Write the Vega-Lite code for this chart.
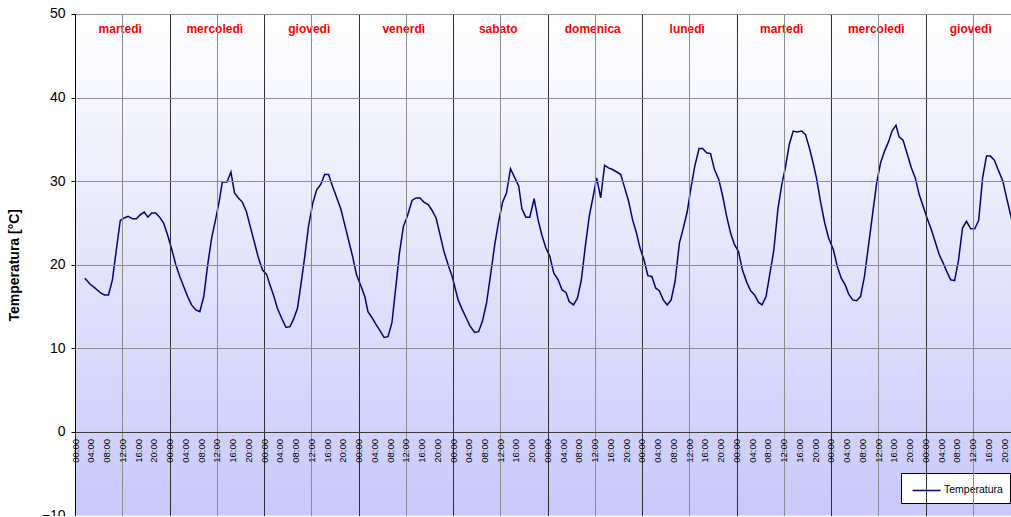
{
  "$schema": "https://vega.github.io/schema/vega-lite/v6.json",
  "width": 945,
  "height": 501.6,
  "autosize": {"type": "none"},
  "padding": {"left": 75, "top": 14, "right": 0, "bottom": 0},
  "background": "white",
  "config": {
    "font": "Liberation Sans",
    "view": {"stroke": null},
    "axis": {"labelFont": "Liberation Sans", "titleFont": "Liberation Sans"},
    "legend": {"labelFont": "Liberation Sans"}
  },
  "resolve": {"axis": {"x": "independent"}},
  "layer": [
    {
      "data": {"values": [{}]},
      "mark": {
        "type": "rect",
        "stroke": null,
        "fill": {
          "gradient": "linear", "x1": 0, "y1": 0, "x2": 0, "y2": 1,
          "stops": [{"offset": 0, "color": "#ffffff"}, {"offset": 1, "color": "#c8c8fa"}]
        }
      },
      "encoding": {
        "x": {
          "datum": 0, "type": "quantitative",
          "scale": {"domain": [0, 240], "nice": false, "zero": false},
          "axis": {
            "orient": "bottom", "values": [0,12,24,36,48,60,72,84,96,108,120,132,144,156,168,180,192,204,216,228,240],
            "grid": true, "zindex": 1,
            "gridColor": {"condition": {"test": "datum.value % 24 === 0", "value": "#2e2e2e"}, "value": "#8c8c8c"},
            "gridWidth": 1,
            "labels": false, "ticks": false, "domain": false, "title": null
          }
        },
        "x2": {"datum": 240},
        "y": {
          "datum": 50, "type": "quantitative",
          "scale": {"domain": [-10, 50], "nice": false, "zero": false},
          "axis": {
            "values": [-10, 0, 10, 20, 30, 40, 50],
            "grid": true, "gridColor": "#8c8c8c", "gridWidth": 1, "zindex": 1,
            "domainColor": "#000000", "domainWidth": 1,
            "tickColor": "#000000", "tickSize": 4,
            "labelFontSize": 14, "labelColor": "#000000", "labelPadding": 6,
            "title": "Temperatura [°C]", "titleFontSize": 14, "titleFontWeight": "bold",
            "titleColor": "#000000", "titlePadding": 20
          }
        },
        "y2": {"datum": -10}
      }
    },
    {
      "data": {
        "values": [
          {"ora": 12, "giorno": "martedì"},
          {"ora": 36, "giorno": "mercoledì"},
          {"ora": 60, "giorno": "giovedì"},
          {"ora": 84, "giorno": "venerdì"},
          {"ora": 108, "giorno": "sabato"},
          {"ora": 132, "giorno": "domenica"},
          {"ora": 156, "giorno": "lunedì"},
          {"ora": 180, "giorno": "martedì"},
          {"ora": 204, "giorno": "mercoledì"},
          {"ora": 228, "giorno": "giovedì"}
        ]
      },
      "mark": {"type": "text", "color": "#ff0000", "fontWeight": "bold", "fontSize": 12, "baseline": "alphabetic", "align": "center", "dx": -2},
      "encoding": {
        "x": {
          "field": "ora", "type": "quantitative",
          "axis": {
            "orient": "bottom", "offset": -83.6, "zindex": 2,
            "values": [0,4,8,12,16,20,24,28,32,36,40,44,48,52,56,60,64,68,72,76,80,84,88,92,96,100,104,108,112,116,120,124,128,132,136,140,144,148,152,156,160,164,168,172,176,180,184,188,192,196,200,204,208,212,216,220,224,228,232,236],
            "labelExpr": "(datum.value % 24 < 10 ? '0' : '') + (datum.value % 24) + ':00'",
            "labelAngle": 270, "labelFontSize": 9.5, "labelColor": "#000000", "labelPadding": 1.5,
            "labelOverlap": false,
            "ticks": true, "tickSize": 5, "tickColor": "#2e2e2e",
            "tickOpacity": {"condition": {"test": "datum.value % 24 === 0", "value": 1}, "value": 0},
            "grid": false,
            "domain": true, "domainColor": "#3c3c3c", "domainWidth": 1,
            "title": null
          }
        },
        "y": {"datum": 47.67, "type": "quantitative"},
        "text": {"field": "giorno"}
      }
    },
    {
      "data": {
        "values": [
          {"h": 2.5, "t": 18.4}, {"h": 3.8, "t": 17.7}, {"h": 5.1, "t": 17.2}, {"h": 6.6, "t": 16.6}, {"h": 7.5, "t": 16.4}, {"h": 8.5, "t": 16.4}, {"h": 9.5, "t": 18.2}, {"h": 10.5, "t": 21.8}, {"h": 11.5, "t": 25.3}, {"h": 12.5, "t": 25.6}, {"h": 13.5, "t": 25.8}, {"h": 14.6, "t": 25.5}, {"h": 15.6, "t": 25.5}, {"h": 16.6, "t": 26.0}, {"h": 17.6, "t": 26.3}, {"h": 18.5, "t": 25.7}, {"h": 19.5, "t": 26.2}, {"h": 20.5, "t": 26.2}, {"h": 21.5, "t": 25.7}, {"h": 22.5, "t": 25.0}, {"h": 23.5, "t": 23.6},
          {"h": 24.6, "t": 21.8}, {"h": 25.6, "t": 20.0}, {"h": 26.6, "t": 18.6}, {"h": 27.6, "t": 17.4}, {"h": 28.6, "t": 16.2}, {"h": 29.6, "t": 15.2}, {"h": 30.7, "t": 14.6}, {"h": 31.7, "t": 14.4}, {"h": 32.7, "t": 16.2}, {"h": 33.7, "t": 20.0}, {"h": 34.7, "t": 23.2}, {"h": 35.7, "t": 25.4}, {"h": 36.7, "t": 27.8}, {"h": 37.4, "t": 29.9}, {"h": 38.6, "t": 29.9}, {"h": 39.6, "t": 31.1}, {"h": 40.5, "t": 28.6}, {"h": 41.5, "t": 28.0}, {"h": 42.5, "t": 27.5}, {"h": 43.5, "t": 26.4}, {"h": 44.5, "t": 24.6}, {"h": 45.6, "t": 22.6}, {"h": 46.6, "t": 20.8}, {"h": 47.6, "t": 19.4},
          {"h": 48.7, "t": 18.8}, {"h": 49.5, "t": 17.6}, {"h": 50.4, "t": 16.4}, {"h": 51.4, "t": 14.8}, {"h": 52.4, "t": 13.7}, {"h": 53.6, "t": 12.5}, {"h": 54.6, "t": 12.6}, {"h": 55.5, "t": 13.5}, {"h": 56.5, "t": 14.8}, {"h": 57.3, "t": 17.4}, {"h": 58.3, "t": 20.8}, {"h": 59.3, "t": 24.6}, {"h": 60.4, "t": 27.4}, {"h": 61.4, "t": 29.0}, {"h": 62.4, "t": 29.6}, {"h": 63.4, "t": 30.8}, {"h": 64.4, "t": 30.8}, {"h": 65.4, "t": 29.4}, {"h": 66.5, "t": 28.0}, {"h": 67.5, "t": 26.7}, {"h": 68.5, "t": 24.8}, {"h": 69.5, "t": 22.9}, {"h": 70.5, "t": 21.0}, {"h": 71.5, "t": 18.8},
          {"h": 72.6, "t": 17.5}, {"h": 73.6, "t": 16.2}, {"h": 74.4, "t": 14.4}, {"h": 75.4, "t": 13.7}, {"h": 76.4, "t": 12.9}, {"h": 77.5, "t": 12.1}, {"h": 78.5, "t": 11.3}, {"h": 79.5, "t": 11.4}, {"h": 80.5, "t": 13.1}, {"h": 81.4, "t": 17.0}, {"h": 82.4, "t": 21.4}, {"h": 83.4, "t": 24.6}, {"h": 84.4, "t": 25.8}, {"h": 85.6, "t": 27.7}, {"h": 86.6, "t": 28.0}, {"h": 87.6, "t": 28.0}, {"h": 88.6, "t": 27.5}, {"h": 89.7, "t": 27.2}, {"h": 90.7, "t": 26.5}, {"h": 91.7, "t": 25.6}, {"h": 92.7, "t": 23.6}, {"h": 93.7, "t": 21.6}, {"h": 94.9, "t": 19.8}, {"h": 95.8, "t": 18.6},
          {"h": 97.3, "t": 15.8}, {"h": 98.3, "t": 14.7}, {"h": 99.3, "t": 13.7}, {"h": 100.3, "t": 12.7}, {"h": 101.5, "t": 11.9}, {"h": 102.5, "t": 12.0}, {"h": 103.5, "t": 13.3}, {"h": 104.5, "t": 15.4}, {"h": 105.6, "t": 19.0}, {"h": 106.6, "t": 22.4}, {"h": 107.6, "t": 25.2}, {"h": 108.6, "t": 27.5}, {"h": 109.6, "t": 28.6}, {"h": 110.6, "t": 31.5}, {"h": 111.7, "t": 30.4}, {"h": 112.7, "t": 29.4}, {"h": 113.5, "t": 26.7}, {"h": 114.5, "t": 25.7}, {"h": 115.5, "t": 25.7}, {"h": 116.6, "t": 27.9}, {"h": 117.6, "t": 25.4}, {"h": 118.6, "t": 23.5}, {"h": 119.6, "t": 22.0},
          {"h": 120.6, "t": 21.0}, {"h": 121.6, "t": 19.0}, {"h": 122.7, "t": 18.2}, {"h": 123.7, "t": 17.0}, {"h": 124.7, "t": 16.7}, {"h": 125.5, "t": 15.6}, {"h": 126.6, "t": 15.2}, {"h": 127.6, "t": 16.0}, {"h": 128.6, "t": 18.2}, {"h": 129.6, "t": 22.2}, {"h": 130.6, "t": 25.8}, {"h": 131.6, "t": 28.2}, {"h": 132.5, "t": 30.4}, {"h": 133.5, "t": 28.0}, {"h": 134.5, "t": 31.9}, {"h": 135.5, "t": 31.6}, {"h": 136.5, "t": 31.4}, {"h": 137.6, "t": 31.1}, {"h": 138.6, "t": 30.8}, {"h": 139.6, "t": 29.2}, {"h": 140.6, "t": 27.6}, {"h": 141.6, "t": 25.4}, {"h": 142.6, "t": 23.8}, {"h": 143.5, "t": 22.0},
          {"h": 144.5, "t": 20.6}, {"h": 145.5, "t": 18.7}, {"h": 146.5, "t": 18.6}, {"h": 147.5, "t": 17.2}, {"h": 148.4, "t": 16.9}, {"h": 149.4, "t": 15.8}, {"h": 150.4, "t": 15.2}, {"h": 151.4, "t": 15.8}, {"h": 152.4, "t": 18.0}, {"h": 153.5, "t": 22.6}, {"h": 154.5, "t": 24.4}, {"h": 155.5, "t": 26.4}, {"h": 156.3, "t": 28.8}, {"h": 157.4, "t": 31.8}, {"h": 158.5, "t": 33.9}, {"h": 159.4, "t": 33.9}, {"h": 160.4, "t": 33.4}, {"h": 161.4, "t": 33.3}, {"h": 162.4, "t": 31.4}, {"h": 163.5, "t": 30.2}, {"h": 164.5, "t": 28.2}, {"h": 165.5, "t": 25.8}, {"h": 166.5, "t": 23.8}, {"h": 167.5, "t": 22.4},
          {"h": 168.5, "t": 21.6}, {"h": 169.5, "t": 19.4}, {"h": 170.6, "t": 17.9}, {"h": 171.6, "t": 16.9}, {"h": 172.6, "t": 16.4}, {"h": 173.6, "t": 15.5}, {"h": 174.5, "t": 15.2}, {"h": 175.5, "t": 16.2}, {"h": 176.5, "t": 19.0}, {"h": 177.5, "t": 21.8}, {"h": 178.5, "t": 26.6}, {"h": 179.5, "t": 29.6}, {"h": 180.4, "t": 31.6}, {"h": 181.4, "t": 34.4}, {"h": 182.4, "t": 36.0}, {"h": 183.4, "t": 35.9}, {"h": 184.5, "t": 36.0}, {"h": 185.5, "t": 35.6}, {"h": 186.5, "t": 34.0}, {"h": 187.5, "t": 32.1}, {"h": 188.3, "t": 30.4}, {"h": 189.4, "t": 27.4}, {"h": 190.4, "t": 25.0}, {"h": 191.4, "t": 23.2},
          {"h": 192.6, "t": 21.8}, {"h": 193.6, "t": 19.8}, {"h": 194.6, "t": 18.4}, {"h": 195.6, "t": 17.6}, {"h": 196.5, "t": 16.5}, {"h": 197.5, "t": 15.8}, {"h": 198.5, "t": 15.7}, {"h": 199.5, "t": 16.2}, {"h": 200.5, "t": 18.6}, {"h": 201.5, "t": 22.2}, {"h": 202.6, "t": 26.2}, {"h": 203.6, "t": 29.8}, {"h": 204.6, "t": 32.2}, {"h": 205.6, "t": 33.6}, {"h": 206.6, "t": 34.7}, {"h": 207.5, "t": 36.0}, {"h": 208.5, "t": 36.7}, {"h": 209.3, "t": 35.3}, {"h": 210.3, "t": 34.9}, {"h": 211.4, "t": 33.2}, {"h": 212.4, "t": 31.6}, {"h": 213.4, "t": 30.4}, {"h": 214.4, "t": 28.4}, {"h": 215.4, "t": 27.0},
          {"h": 216.4, "t": 25.6}, {"h": 217.5, "t": 24.2}, {"h": 218.5, "t": 22.7}, {"h": 219.5, "t": 21.2}, {"h": 220.5, "t": 20.2}, {"h": 221.5, "t": 19.1}, {"h": 222.4, "t": 18.2}, {"h": 223.4, "t": 18.1}, {"h": 224.4, "t": 20.6}, {"h": 225.4, "t": 24.4}, {"h": 226.4, "t": 25.2}, {"h": 227.5, "t": 24.3}, {"h": 228.5, "t": 24.3}, {"h": 229.5, "t": 25.3}, {"h": 230.5, "t": 30.4}, {"h": 231.5, "t": 33.0}, {"h": 232.5, "t": 33.0}, {"h": 233.5, "t": 32.5}, {"h": 234.6, "t": 31.2}, {"h": 235.6, "t": 30.1}, {"h": 236.6, "t": 28.0}, {"h": 237.7, "t": 25.8}, {"h": 238.7, "t": 24.0}
        ]
      },
      "mark": {"type": "line", "strokeWidth": 1.5},
      "encoding": {
        "x": {"field": "h", "type": "quantitative", "axis": null},
        "y": {"field": "t", "type": "quantitative", "title": "Temperatura [°C]"},
        "color": {
          "datum": "Temperatura", "type": "nominal",
          "scale": {"range": ["#000080"]},
          "legend": {
            "title": null, "orient": "none", "legendX": 826, "legendY": 459,
            "fillColor": "#ffffff", "strokeColor": "#000000", "padding": 6.5,
            "symbolType": "M-1.4,0H1.4", "symbolSize": 400, "symbolStrokeWidth": 1.5,
            "symbolOffset": 8,
            "labelFontSize": 10.5, "labelColor": "#000000", "labelOffset": 6.5
          }
        }
      }
    }
  ]
}
